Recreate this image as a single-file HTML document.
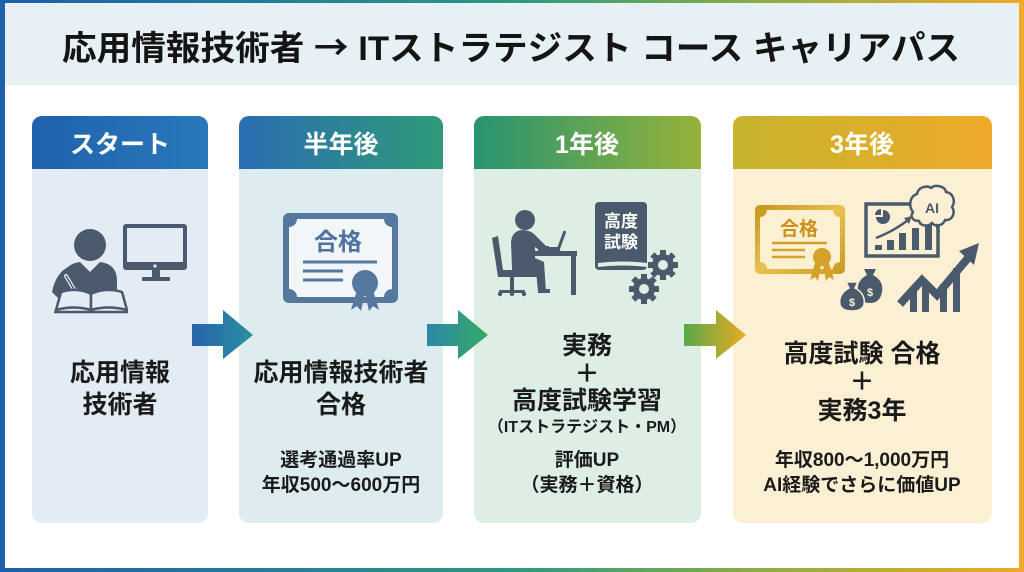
<!DOCTYPE html>
<html><head><meta charset="utf-8"><style>
html,body{margin:0;padding:0;background:#fff;}
svg{display:block;}
text{font-family:"Liberation Sans","Noto Sans CJK JP",sans-serif;font-weight:bold;}
</style></head><body>
<svg width="1024" height="572" viewBox="0 0 1024 572" xmlns="http://www.w3.org/2000/svg">
<defs>
<linearGradient id="bd" x1="0" y1="0" x2="1" y2="0">
<stop offset="0" stop-color="#1d5fab"/><stop offset="0.5" stop-color="#2a9a82"/><stop offset="0.75" stop-color="#8fae40"/><stop offset="1" stop-color="#eeaa28"/></linearGradient>
<linearGradient id="h1" x1="0" y1="0" x2="1" y2="0"><stop offset="0" stop-color="#1f62aa"/><stop offset="1" stop-color="#2a78bb"/></linearGradient>
<linearGradient id="h2" x1="0" y1="0" x2="1" y2="0"><stop offset="0" stop-color="#2a6db2"/><stop offset="1" stop-color="#2f9a78"/></linearGradient>
<linearGradient id="h3" x1="0" y1="0" x2="1" y2="0"><stop offset="0" stop-color="#289470"/><stop offset="1" stop-color="#96b23a"/></linearGradient>
<linearGradient id="h4" x1="0" y1="0" x2="1" y2="0"><stop offset="0" stop-color="#c6b42c"/><stop offset="1" stop-color="#eeaa2a"/></linearGradient>
<linearGradient id="a1" x1="0" y1="0" x2="1" y2="0"><stop offset="0" stop-color="#2762ad"/><stop offset="1" stop-color="#2a92a0"/></linearGradient>
<linearGradient id="a2" x1="0" y1="0" x2="1" y2="0"><stop offset="0" stop-color="#2a88ab"/><stop offset="1" stop-color="#36aa62"/></linearGradient>
<linearGradient id="a3" x1="0" y1="0" x2="1" y2="0"><stop offset="0" stop-color="#58a84c"/><stop offset="1" stop-color="#eaab20"/></linearGradient>
<linearGradient id="gold" x1="0" y1="0" x2="1" y2="1"><stop offset="0" stop-color="#c4951c"/><stop offset="0.5" stop-color="#e8c24c"/><stop offset="1" stop-color="#c89a20"/></linearGradient>
</defs>

<!-- background & border -->
<rect x="0" y="0" width="1024" height="572" fill="#ffffff"/>
<rect x="5" y="3" width="1014" height="82" fill="#e7f1f5"/>
<rect x="0" y="0" width="1024" height="3" fill="url(#bd)"/>
<rect x="0" y="568" width="1024" height="4" fill="url(#bd)"/>
<rect x="0" y="0" width="5" height="572" fill="#1f60ab"/>
<rect x="1019" y="0" width="5" height="572" fill="#eeaa2a"/>

<!-- title -->
<text x="511" y="60" font-size="34" text-anchor="middle" fill="#141414" textLength="898" lengthAdjust="spacingAndGlyphs">応用情報技術者 <tspan font-family="Noto Sans CJK JP, sans-serif">→</tspan> ITストラテジスト コース キャリアパス</text>

<!-- cards -->
<rect x="32" y="116" width="176" height="407" rx="10" fill="#e3ebf4"/>
<path d="M32,169 V126 a10,10 0 0 1 10,-10 H198 a10,10 0 0 1 10,10 V169 Z" fill="url(#h1)"/>
<rect x="239" y="116" width="204" height="407" rx="10" fill="#dcecef"/>
<path d="M239,169 V126 a10,10 0 0 1 10,-10 H433 a10,10 0 0 1 10,10 V169 Z" fill="url(#h2)"/>
<rect x="474" y="116" width="227" height="407" rx="10" fill="#ddefe4"/>
<path d="M474,169 V126 a10,10 0 0 1 10,-10 H691 a10,10 0 0 1 10,10 V169 Z" fill="url(#h3)"/>
<rect x="733" y="116" width="259" height="407" rx="10" fill="#fcf0d4"/>
<path d="M733,169 V126 a10,10 0 0 1 10,-10 H982 a10,10 0 0 1 10,10 V169 Z" fill="url(#h4)"/>

<!-- header labels -->
<text x="120" y="153" font-size="25" text-anchor="middle" fill="#fff">スタート</text>
<text x="341" y="153" font-size="25" text-anchor="middle" fill="#fff">半年後</text>
<text x="587" y="153" font-size="25" text-anchor="middle" fill="#fff">1年後</text>
<text x="862" y="153" font-size="25" text-anchor="middle" fill="#fff">3年後</text>

<!-- col1 icon -->
<g fill="#4a5a6c">
<circle cx="90" cy="245" r="16"/>
<path d="M63,298 V281 Q63,264 80,262 L90,272 L100,262 Q117,264 117,281 V298 Z"/>
<path d="M70,266 Q56,272 52,292 L58,298 L84,300 L86,290 Z"/>
<rect x="123" y="224" width="64" height="46" rx="3"/>
<rect x="152" y="269" width="8" height="8"/>
<rect x="142" y="277" width="28" height="4" rx="1"/>
</g>
<rect x="127" y="228" width="56" height="34" fill="#e3ebf4"/>
<circle cx="155" cy="266" r="1.6" fill="#e3ebf4"/>
<path d="M66,276 L78,296" stroke="#e3ebf4" stroke-width="4" stroke-linecap="round"/>
<path d="M66,276 L78,296" stroke="#4a5a6c" stroke-width="1.5" stroke-linecap="round"/>
<g fill="#e3ebf4" stroke="#4a5a6c" stroke-width="2.5" stroke-linejoin="round">
<path d="M56,310 L61,292 Q78,287 91,294 L91,310 Q74,305 56,310 Z"/>
<path d="M127,310 L122,292 Q105,287 91,294 L91,310 Q108,305 127,310 Z"/>
</g>
<path d="M54,312 H128" stroke="#4a5a6c" stroke-width="2.5"/>

<!-- col2 icon: certificate -->
<rect x="283" y="213" width="115" height="90" rx="6" fill="#56789e"/>
<path d="M297,219 L384,219 A8,8 0 0 0 392,227 L392,289 A8,8 0 0 0 384,297 L297,297 A8,8 0 0 0 289,289 L289,227 A8,8 0 0 0 297,219 Z" fill="#f1f6f9"/>
<text x="338" y="250" font-size="24" text-anchor="middle" fill="#4f72a0">合格</text>
<g stroke="#56789e" stroke-width="3"><path d="M303,262 H377"/><path d="M303,271 H343"/><path d="M303,280 H343"/></g>
<g fill="#56789e">
<path d="M357,290 L351,310 L357,306 L361,311 L365,293 Z"/>
<path d="M373,290 L379,310 L373,306 L369,311 L365,293 Z"/>
<circle cx="365" cy="283" r="13"/>
</g>

<!-- col3 icon -->
<g fill="#4a5a6c">
<circle cx="525" cy="220" r="10"/>
<path d="M512,268 L511,242 Q512,231 522,230 Q531,230 536,236 L546,246 L549,246 L549,252 L542,252 L535,247 L535,258 L544,262 L546,292 L538,292 L536,270 L512,270 Z"/>
<path d="M538,289 H550 V293 H538 Z"/>
<path d="M492,238 L498,236 L503,270 L540,270 L540,277 L498,277 Z"/>
<rect x="510" y="276" width="4" height="15"/>
<rect x="499" y="290" width="26" height="3" rx="1"/>
<circle cx="500" cy="294" r="2.2"/><circle cx="512" cy="294" r="2.2"/><circle cx="524" cy="294" r="2.2"/>
<rect x="527" y="251" width="50" height="5"/>
<rect x="571" y="255" width="5" height="40"/>
<rect x="538" y="247" width="22" height="4"/>
</g>
<path d="M558,250 L565,231" stroke="#4a5a6c" stroke-width="3"/>
<rect x="595" y="202" width="52" height="68" rx="4" fill="#4a5a6c"/>
<path d="M598,263 Q622,260 647,263 V267 Q622,264 598,267 Z" fill="#ddefe4"/>
<text x="621" y="227" font-size="17" text-anchor="middle" fill="#fff">高度</text>
<text x="621" y="248" font-size="17" text-anchor="middle" fill="#fff">試験</text>
<g fill="#4a5a6c">
<g transform="translate(663,265)"><circle r="11"/><rect x="-3" y="-15" width="6" height="30"/><rect x="-3" y="-15" width="6" height="30" transform="rotate(45)"/><rect x="-3" y="-15" width="6" height="30" transform="rotate(90)"/><rect x="-3" y="-15" width="6" height="30" transform="rotate(135)"/><circle r="5" fill="#ddefe4"/></g>
<g transform="translate(644,289)"><circle r="11"/><rect x="-3" y="-15" width="6" height="30"/><rect x="-3" y="-15" width="6" height="30" transform="rotate(45)"/><rect x="-3" y="-15" width="6" height="30" transform="rotate(90)"/><rect x="-3" y="-15" width="6" height="30" transform="rotate(135)"/><circle r="5" fill="#ddefe4"/></g>
</g>

<!-- col4 icons -->
<rect x="755" y="205" width="90" height="69" rx="5" fill="url(#gold)"/>
<path d="M767,210 L833,210 A7,7 0 0 0 840,217 L840,262 A7,7 0 0 0 833,269 L767,269 A7,7 0 0 0 760,262 L760,217 A7,7 0 0 0 767,210 Z" fill="#fbf0d2"/>
<text x="799" y="235" font-size="19" text-anchor="middle" fill="#c8921a">合格</text>
<g stroke="#d2a22a" stroke-width="2.5"><path d="M772,243 H827"/><path d="M772,250 H805"/><path d="M772,257 H805"/></g>
<g fill="#d4a228">
<path d="M815,263 L810,280 L815,277 L818,281 L821,265 Z"/>
<path d="M829,263 L834,280 L829,277 L826,281 L823,265 Z"/>
<circle cx="822" cy="257" r="9"/>
</g>
<rect x="866" y="204" width="72" height="52" fill="#fcf0d4" stroke="#4a5a6c" stroke-width="3.5"/>
<g fill="#4a5a6c">
<path d="M883,217 L883,210 A7,7 0 1 1 876,217 Z"/>
<path d="M881,215 L881,209 A6,6 0 0 0 875,215 Z"/>
<rect x="875" y="245" width="7" height="5"/>
<rect x="887" y="240" width="7" height="10"/>
<rect x="899" y="233" width="7" height="17"/>
<rect x="912" y="228" width="7" height="22"/>
<rect x="925" y="222" width="7" height="28"/>
<path d="M912,216 L904,218 L909,224 Z"/>
</g>
<path d="M876,238 Q894,231 908,220" stroke="#4a5a6c" stroke-width="2.5" fill="none"/>
<path d="M913,212 C908,206 910,196 917,194 C918,187 927,185 931,188 C935,184 945,186 946,192 C953,193 956,201 952,207 C956,213 952,221 945,220 C943,226 935,227 932,223 C928,227 920,226 919,221 C912,221 910,216 913,212 Z" fill="#fcf0d4" stroke="#4a5a6c" stroke-width="2.5"/>
<path d="M936,224 L939,232" stroke="#4a5a6c" stroke-width="2.5"/>
<text x="932" y="213" font-size="14" text-anchor="middle" fill="#4a5a6c">AI</text>
<g fill="#4a5a6c">
<path d="M864,269 L876,269 L873,275 Q884,281 882,292 Q880,303 870,303 Q860,303 858,292 Q856,281 867,275 Z"/>
<path d="M846,282 L858,282 L855,288 Q866,294 864,305 Q862,311 852,311 Q842,311 840,305 Q838,294 849,288 Z" stroke="#fcf0d4" stroke-width="1.5"/>
</g>
<text x="870" y="296" font-size="11" text-anchor="middle" fill="#fcf0d4">$</text>
<text x="852" y="306" font-size="11" text-anchor="middle" fill="#fcf0d4">$</text>
<g fill="#4a5a6c">
<rect x="910" y="290" width="7" height="22"/>
<rect x="922" y="282" width="7" height="30"/>
<rect x="940" y="284" width="7" height="28"/>
<rect x="953" y="268" width="7" height="44"/>
</g>
<path d="M900,304 L922,280 L937,295 L968,258" stroke="#4a5a6c" stroke-width="8" fill="none" stroke-linejoin="miter"/>
<path d="M979,243 L959,251 L974,265 Z" fill="#4a5a6c"/>

<!-- arrows -->
<path d="M192,324 H223 V310 L253,335 L223,359 V346 H192 Z" fill="url(#a1)"/>
<path d="M427,324 H458 V310 L488,335 L458,359 V346 H427 Z" fill="url(#a2)"/>
<path d="M684,324 H716 V310 L746,335 L716,359 V346 H684 Z" fill="url(#a3)"/>

<!-- body text -->
<g fill="#1a1a1a" text-anchor="middle">
<text x="120" y="381" font-size="25">応用情報</text>
<text x="120" y="413" font-size="25">技術者</text>

<text x="341" y="381" font-size="25">応用情報技術者</text>
<text x="341" y="413" font-size="25">合格</text>
<text x="341" y="466" font-size="19">選考通過率UP</text>
<text x="341" y="491" font-size="19">年収500〜600万円</text>

<text x="587" y="354" font-size="25">実務</text>
<text x="587" y="382" font-size="25">＋</text>
<text x="587" y="409" font-size="25">高度試験学習</text>
<text x="587" y="432" font-size="16">（ITストラテジスト・PM）</text>
<text x="587" y="466" font-size="19">評価UP</text>
<text x="587" y="491" font-size="19">（実務＋資格）</text>

<text x="862" y="362" font-size="25">高度試験 合格</text>
<text x="862" y="390" font-size="25">＋</text>
<text x="862" y="419" font-size="25">実務3年</text>
<text x="862" y="466" font-size="19">年収800〜1,000万円</text>
<text x="862" y="491" font-size="19">AI経験でさらに価値UP</text>
</g>
</svg>
</body></html>
